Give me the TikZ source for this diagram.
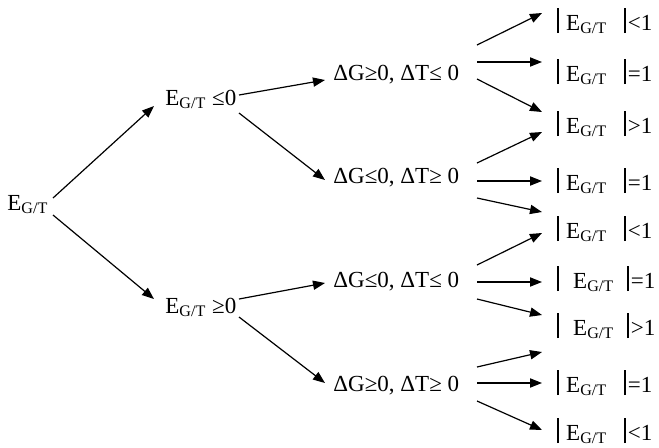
\documentclass[tikz,border=0pt]{standalone}
\usepackage{fontspec}
\setmainfont{Liberation Serif}
\usetikzlibrary{arrows.meta}

% condition labels
\newcommand{\EGT}{E\textsubscript{G/T}}
\newcommand{\absbar}{\rule[-1.5pt]{0.9pt}{12.5pt}}
\newcommand{\absE}[1]{\absbar\hspace{3.5pt}\EGT\hspace{8.5pt}\absbar\hspace{1pt}#1}
\newcommand{\absEw}[1]{\absbar\hspace{7pt}\EGT\hspace{6.5pt}\absbar\hspace{1pt}#1}

\begin{document}
\begin{tikzpicture}[x=0.5pt,y=-0.5pt,
  lbl/.style={inner sep=0pt,anchor=base west,font=\fontsize{11.5}{13}\selectfont},
  arr/.style={line width=0.6pt,-{Triangle[length=6pt,width=4.6pt]}}]
\useasboundingbox (0,0) rectangle (659,447);

% root and first split
\node[lbl] (root) at (7,210) {\EGT};
\node[lbl] (n1) at (165,105) {\EGT\ ≤0};
\node[lbl] (n2) at (165,313) {\EGT\ ≥0};

% second split
\node[lbl] (m1) at (333,80)  {ΔG≥0, ΔT≤ 0};
\node[lbl] (m2) at (333,183) {ΔG≤0, ΔT≥ 0};
\node[lbl] (m3) at (333,287) {ΔG≤0, ΔT≤ 0};
\node[lbl] (m4) at (333,391) {ΔG≥0, ΔT≥ 0};

% outcomes
\node[lbl] (L1) at (557,30)  {\absE{<1}};
\node[lbl] (L2) at (557,81)  {\absE{=1}};
\node[lbl] (L3) at (557,133) {\absE{>1}};
\node[lbl] (L4) at (557,190) {\absE{=1}};
\node[lbl] (L5) at (557,238) {\absE{<1}};
\node[lbl] (L6) at (557,288) {\absEw{=1}};
\node[lbl] (L7) at (557,335) {\absEw{>1}};
\node[lbl] (L8) at (557,392) {\absE{=1}};
\node[lbl] (L9) at (557,440) {\absE{<1}};

% root -> sign of E
\draw[arr] ([shift={(46,-12)}]root.base west) -- ([shift={(-11,1)}]n1.base west);
\draw[arr] ([shift={(46,5)}]root.base west)   -- ([shift={(-11,-14)}]n2.base west);

% sign of E -> signs of dG, dT
\draw[arr] ([shift={(74,-10)}]n1.base west) -- ([shift={(-8,0)}]m1.base west);
\draw[arr] ([shift={(74,8)}]n1.base west)   -- ([shift={(-8,-3)}]m2.base west);
\draw[arr] ([shift={(74,-14)}]n2.base west) -- ([shift={(-8,-4)}]m3.base west);
\draw[arr] ([shift={(74,4)}]n2.base west)   -- ([shift={(-8,-8)}]m4.base west);

% signs -> magnitude of E
\draw[arr] ([shift={(144,-35)}]m1.base west) -- ([shift={(-15,-17)}]L1.base west);
\draw[arr] ([shift={(144,-18)}]m1.base west) -- ([shift={(-15,-19)}]L2.base west);
\draw[arr] ([shift={(144,-1)}]m1.base west)  -- ([shift={(-15,-21)}]L3.base west);

\draw[arr] ([shift={(144,-20)}]m2.base west) -- ([shift={(-15,-1)}]L3.base west);
\draw[arr] ([shift={(144,-2)}]m2.base west)  -- ([shift={(-15,-9)}]L4.base west);
\draw[arr] ([shift={(144,15)}]m2.base west)  -- ([shift={(-15,-26)}]L5.base west);

\draw[arr] ([shift={(144,-22)}]m3.base west) -- ([shift={(-15,-5)}]L5.base west);
\draw[arr] ([shift={(144,-5)}]m3.base west)  -- ([shift={(-15,-6)}]L6.base west);
\draw[arr] ([shift={(144,12)}]m3.base west)  -- ([shift={(-15,-20)}]L7.base west);

\draw[arr] ([shift={(144,-24)}]m4.base west) -- ([shift={(-15,17)}]L7.base west);
\draw[arr] ([shift={(144,-8)}]m4.base west)  -- ([shift={(-15,-9)}]L8.base west);
\draw[arr] ([shift={(144,10)}]m4.base west)  -- ([shift={(-15,-10)}]L9.base west);
\end{tikzpicture}
\end{document}
